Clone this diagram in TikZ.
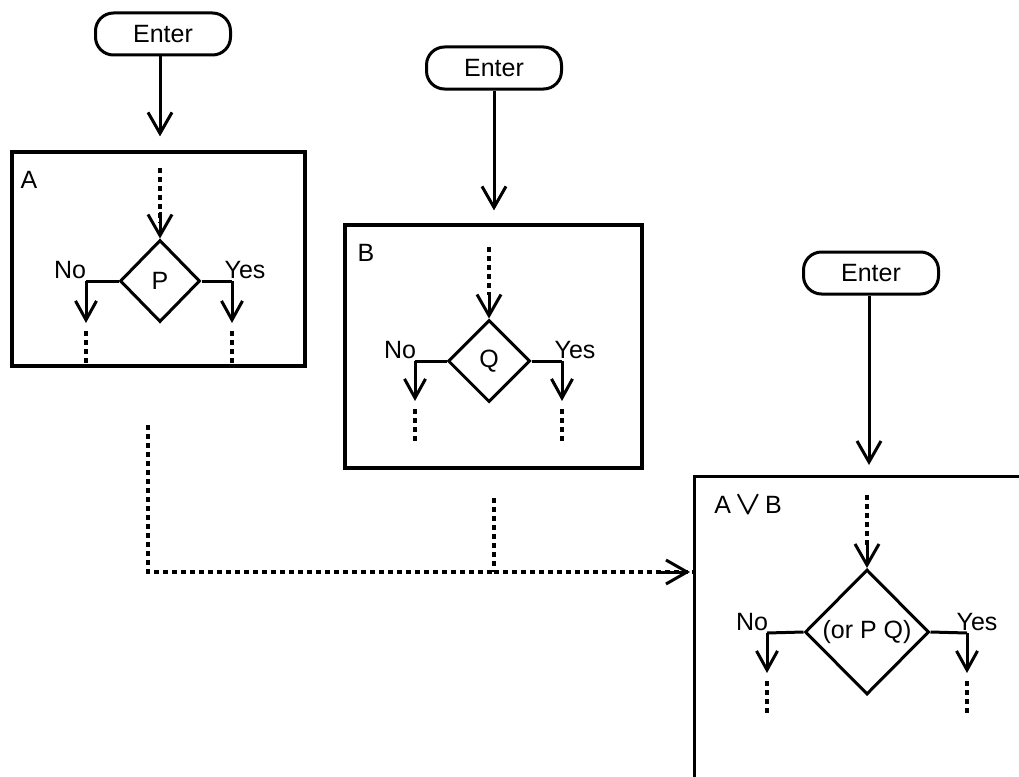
\documentclass[tikz,border=0pt]{standalone}
\usepackage{amsmath}
\usepackage{fontspec}
\setmainfont{Liberation Sans}
\usetikzlibrary{arrows.meta,shapes.geometric}
\begin{document}
\begin{tikzpicture}[x=1pt,y=-1pt,
  every node/.style={font=\fontsize{25}{29}\selectfont},
  enter/.style={draw,line width=3pt,rounded corners=18pt,minimum width=135pt,minimum height=42pt,inner sep=0pt},
  panel/.style={draw,line width=3.2pt,inner sep=0pt},
  dia/.style={draw,diamond,line width=3pt,inner sep=0pt,aspect=1},
  ln/.style={line width=3pt},
  arr/.style={line width=3pt,-{Straight Barb[length=21pt,width=24pt,line width=3pt]}},
  sarr/.style={line width=3pt,-{Straight Barb[length=19pt,width=21pt,line width=3pt]}},
  dots/.style={line width=3.6pt,dash pattern=on 4.5pt off 4.5pt},
  lbl/.style={inner sep=0pt}
]
\clip (0,0) rectangle (1019,776);
% ---------- A ----------
\node[enter] (e1) at (163,34) {Enter};
\node[panel,minimum width=293pt,minimum height=214pt] (bA) at (158.5,259) {};
\node[lbl] (tA) at (29,180) {A};
\node[dia,minimum width=80pt,minimum height=82pt] (dP) at (160,281) {};
\node[lbl] at (dP.center) {P};
\draw[arr,shorten >=14pt] (e1.south -| dP.north) -- (dP.north |- bA.north);
\coordinate (inA) at (160,168);
\draw[dots] (inA) -- ++(0,55);
\draw[arr] (160,212) -- (dP.north);
\coordinate (nA) at (86,283);
\coordinate (yA) at (232,283);
\draw[ln] (dP.west) -- (dP.west -| nA);
\draw[ln] (dP.east) -- (dP.east -| yA);
\draw[sarr] (dP.west -| nA) -- (86,323);
\draw[sarr] (dP.east -| yA) -- (232,323);
\draw[dots] (86,331) -- (86,366);
\draw[dots] (232,331) -- (232,366);
\node[lbl] (noA) at (70,270) {No};
\node[lbl] (yesA) at (245,270) {Yes};
% ---------- B ----------
\node[enter] (e2) at (494,68) {Enter};
\node[panel,minimum width=297pt,minimum height=243pt] (bB) at (493.5,346.5) {};
\node[lbl] (tB) at (366,253) {B};
\node[dia,minimum width=82pt,minimum height=82pt] (dQ) at (489,361) {};
\node[lbl] at (dQ.center) {Q};
\draw[arr,shorten >=13pt] (e2.south) -- (e2.south |- bB.north);
\draw[dots] (489,247) -- (489,295);
\draw[arr] (489,292) -- (dQ.north);
\coordinate (nB) at (415,361);
\coordinate (yB) at (562,361);
\draw[ln] (dQ.west) -- (nB);
\draw[ln] (dQ.east) -- (yB);
\draw[sarr] (nB) -- (415,401);
\draw[sarr] (yB) -- (562,401);
\draw[dots] (415,409) -- (415,444);
\draw[dots] (562,409) -- (562,444);
\node[lbl] (noB) at (400,350) {No};
\node[lbl] (yesB) at (575,350) {Yes};
% ---------- A or B ----------
\node[enter] (e3) at (871,273) {Enter};
\node[panel,minimum width=360pt,minimum height=340pt,anchor=north west] (bAB) at (693,475) {};
\node[lbl] (tAB) at (748,505) {A\,\raisebox{-1pt}{\scalebox{1.35}{$\boldsymbol{\vee}$}}\,B};
\node[dia,minimum width=124pt,minimum height=125pt] (dPQ) at (867,632) {};
\node[lbl] at (dPQ.center) {(or P Q)};
\draw[arr,shorten >=10pt] (e3.south -| 869,0) -- (869,475);
\draw[dots] (867,495) -- (867,545);
\draw[arr] (867,540) -- (dPQ.north);
\coordinate (nC) at (767,633);
\coordinate (yC) at (967,633);
\draw[ln] (dPQ.west) -- (nC);
\draw[ln] (dPQ.east) -- (yC);
\draw[sarr] (nC) -- (767,673);
\draw[sarr] (yC) -- (967,673);
\draw[dots] (767,681) -- (767,716);
\draw[dots] (967,681) -- (967,716);
\node[lbl] (noC) at (752,622) {No};
\node[lbl] (yesC) at (977,622) {Yes};
% ---------- joining dotted lines ----------
\coordinate (sA) at (148,425);
\coordinate (sB) at (494,498);
\coordinate (jB) at (494,572);
\draw[dots] (sA) |- (jB);
\draw[dots] (sB) -- (jB);
\draw[dots] (jB) -- (bAB.west |- jB);
\draw[arr,dash pattern=] (660,572) -- ([xshift=-3pt]bAB.west |- jB);
\end{tikzpicture}
\end{document}
